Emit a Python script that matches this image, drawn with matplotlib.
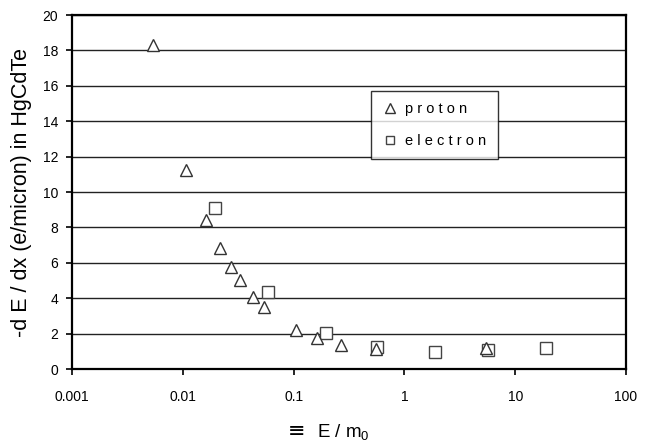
import matplotlib.pyplot as plt
import matplotlib.ticker as mticker

plt.rcParams['font.family'] = ['Liberation Sans', 'DejaVu Sans']
plt.rcParams['mathtext.fontset'] = 'custom'
plt.rcParams['mathtext.rm'] = 'Liberation Sans'
plt.rcParams['mathtext.it'] = 'Liberation Sans'

# proton data
proton_x = [0.0054, 0.0106, 0.0161, 0.0215, 0.027, 0.0327, 0.0428, 0.0537, 0.106, 0.161, 0.27, 0.55, 5.4]
proton_y = [18.3, 11.27, 8.44, 6.86, 5.78, 5.04, 4.08, 3.51, 2.2, 1.76, 1.36, 1.12, 1.19]

# electron data
electron_x = [0.0194, 0.0583, 0.194, 0.57, 1.9, 5.7, 19.0]
electron_y = [9.12, 4.36, 2.04, 1.25, 0.96, 1.08, 1.19]

yticks = [0, 2, 4, 6, 8, 10, 12, 14, 16, 18, 20]
xticks = [0.001, 0.01, 0.1, 1, 10, 100]
xticklabels = ['0.001', '0.01', '0.1', '1', '10', '100']

fig = plt.figure(figsize=(6.5, 4.43), dpi=100)
ax = fig.add_axes([0.111, 0.167, 0.852, 0.799])

ax.set_xscale('log')
ax.set_xlim(0.001, 100)
ax.set_ylim(0, 20)

for y in yticks[1:]:
    ax.axhline(y, color='#222222', lw=1.0, zorder=1)

ax.plot(proton_x, proton_y, linestyle='none', marker='^', ms=9, mfc='white',
        mec='#333333', mew=1.0, label='p r o t o n', zorder=3)
ax.plot(electron_x, electron_y, linestyle='none', marker='s', ms=8, mfc='white',
        mec='#444444', mew=1.0, label='e l e c t r o n', zorder=2)

ax.set_xticks(xticks)
ax.set_xticklabels(xticklabels)
ax.xaxis.set_minor_locator(mticker.NullLocator())
ax.set_yticks(yticks)
ax.tick_params(axis='both', direction='out', length=4, width=1.2, labelsize=10, colors='black')
ax.tick_params(axis='x', pad=11)
ax.tick_params(axis='y', pad=6)

for s in ax.spines.values():
    s.set_linewidth(1.6)
    s.set_color('black')

ax.set_ylabel('-d E / dx (e/micron) in HgCdTe', fontsize=15.5)
ax.yaxis.set_label_coords(-0.072, 0.5)

# x label: equivalence sign drawn a bit heavier, like the original
fig.text(0.457, 0.013, '≡', fontsize=15, family='DejaVu Sans', ha='center', va='baseline')
fig.text(0.487, 0.013, 'E / m$_0$', fontsize=13.5, ha='left', va='baseline')

leg = ax.legend(loc='upper left', bbox_to_anchor=(0.54, 0.785), borderaxespad=0,
                fontsize=10.5, frameon=True, fancybox=False, edgecolor='black',
                borderpad=0.75, labelspacing=1.25, handletextpad=0.5, handlelength=1.1,
                markerscale=0.75)
leg.get_frame().set_linewidth(1.0)

fig.savefig('out.png', dpi=100)
